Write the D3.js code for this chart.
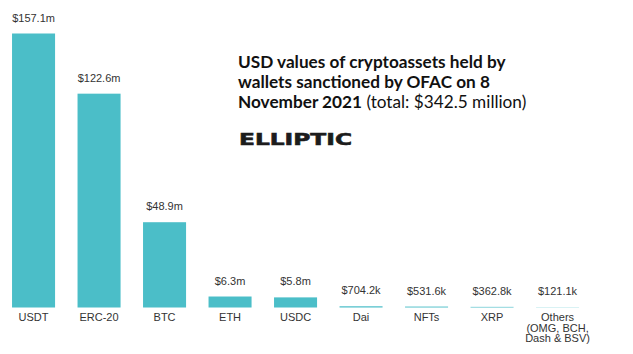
<!DOCTYPE html>
<html>
<head>
<meta charset="utf-8">
<script src="https://cdn.jsdelivr.net/npm/d3@7"></script>
<style>
  body { margin: 0; background: #fff; }
  svg { display: block; }
</style>
</head>
<body>
<script>
// data (USD, millions)
const assets = ["USDT", "ERC-20", "BTC", "ETH", "USDC", "Dai", "NFTs", "XRP", "Others"]
const values = [157.1, 122.6, 48.9, 6.3, 5.8, 0.7042, 0.5316, 0.3628, 0.1211]
const valueLabels = ["$157.1m", "$122.6m", "$48.9m", "$6.3m", "$5.8m", "$704.2k", "$531.6k", "$362.8k", "$121.1k"]
const assetLabels = [["USDT"], ["ERC-20"], ["BTC"], ["ETH"], ["USDC"], ["Dai"], ["NFTs"], ["XRP"], ["Others", "(OMG, BCH,", "Dash & BSV)"]]

const width = 633
const height = 354

var svg = d3.select("body").append("svg")
    .attr("width", width)
    .attr("height", height)

var x = d3.scaleBand()
    .domain(assets)
    .range([0.8, 590.3])
    .paddingInner(0.343)
    .paddingOuter(0.1715)

var y = d3.scaleLinear()
    .domain([0, 157.1])
    .range([307.5, 33.5])

//Bars
svg.append("g")
    .selectAll("rect")
    .data(assets)
    .enter()
    .append("rect")
        .attr("x", d => x(d))
        .attr("width", x.bandwidth())
        .attr("y", (d, i) => y(values[i]))
        .attr("height", (d, i) => y(0) - y(values[i]))
        .attr("fill", "#4bbec8")

//Value labels
svg.append("g")
    .selectAll("text")
    .data(assets)
    .enter()
    .append("text")
        .attr("x", d => x(d) + x.bandwidth() / 2)
        .attr("y", (d, i) => y(values[i]) - 12)
        .attr("text-anchor", "middle")
        .style("font-family", "Liberation Sans, Arial, sans-serif")
        .style("font-size", "11px")
        .attr("fill", "#333")
        .text((d, i) => valueLabels[i])

//Category labels
var cat = svg.append("g")
    .selectAll("text")
    .data(assets)
    .enter()
    .append("text")
        .attr("x", d => x(d) + x.bandwidth() / 2)
        .attr("y", 321)
        .attr("text-anchor", "middle")
        .style("font-family", "Liberation Sans, Arial, sans-serif")
        .style("font-size", "11px")
        .attr("fill", "#333")

cat.selectAll("tspan")
    .data((d, i) => assetLabels[i].map(t => ({ t: t, cx: x(d) + x.bandwidth() / 2 })))
    .enter()
    .append("tspan")
        .attr("x", d => d.cx)
        .attr("dy", (d, i) => i === 0 ? 0 : 10.5)
        .text(d => d.t)

//Title
var title = svg.append("text")
    .attr("x", 238)
    .attr("y", 67.5)
    .style("font-family", "Lato, sans-serif")
    .style("font-size", "17.2px")
    .attr("fill", "#111")

title.append("tspan").attr("x", 238).style("font-weight", "bold")
    .text("USD values of cryptoassets held by")
title.append("tspan").attr("x", 238).attr("dy", 20.3).style("font-weight", "bold")
    .text("wallets sanctioned by OFAC on 8")
title.append("tspan").attr("x", 238).attr("dy", 20.3).style("font-weight", "bold")
    .text("November 2021")
title.append("tspan")
    .text(" (total: $342.5 million)")

//Logo
svg.append("text")
    .attr("x", 239)
    .attr("y", 145)
    .attr("textLength", 113)
    .attr("lengthAdjust", "spacingAndGlyphs")
    .style("font-family", "DejaVu Sans, sans-serif")
    .style("font-weight", "bold")
    .style("font-size", "16.5px")
    .attr("fill", "#1c1c1c")
    .attr("stroke", "#1c1c1c")
    .attr("stroke-width", 0.6)
    .text("ELLIPTIC")
</script>
</body>
</html>
